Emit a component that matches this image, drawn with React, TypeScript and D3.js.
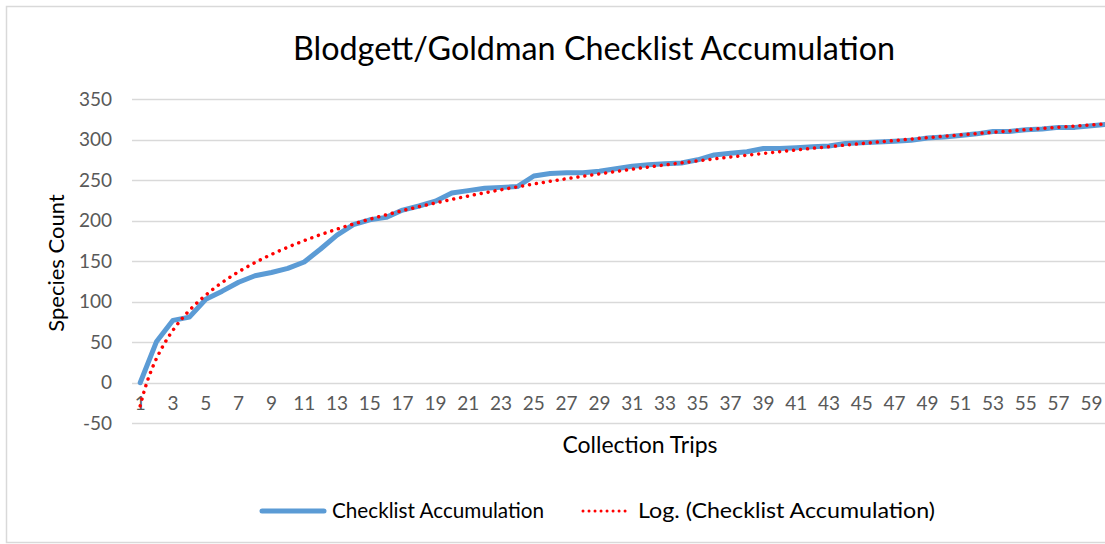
import React, { useEffect, useRef } from "react";
import * as d3 from "d3";

// species count after each collection trip
const trips: number[] = d3.range(1, 61);
const speciesCounts: number[] = [
  0, 51, 77, 81, 103, 113, 124, 132, 136, 141,
  149, 165, 182, 195, 201, 204, 213, 218, 224, 234,
  237, 240, 241, 242, 255, 258, 259, 259, 261, 264,
  267, 269, 270, 271, 275, 281, 283, 285, 289, 289,
  290, 291, 292, 295, 296, 297, 298, 299, 302, 303,
  305, 307, 310, 310, 312, 313, 315, 315, 317, 319,
];
const yTicks: number[] = [-50, 0, 50, 100, 150, 200, 250, 300, 350];
const xTickLabels: number[] = trips.filter((t) => t % 2 === 1);

const title = "Blodgett/Goldman Checklist Accumulation";
const seriesName = "Checklist Accumulation";
const trendName = "Log. (Checklist Accumulation)";

const FONT = "Lato, 'Open Sans', sans-serif";

export default function App() {
  const svgRef = useRef<SVGSVGElement | null>(null);

  useEffect(() => {
    const width = 1105;
    const height = 544;
    const svg = d3.select(svgRef.current);
    svg.selectAll("*").remove();
    svg.attr("width", width).attr("height", height).style("font-family", FONT);

    svg.append("rect").attr("width", width).attr("height", height).attr("fill", "white");
    // chart border (cropped on the right)
    svg
      .append("rect")
      .attr("x", 6.5)
      .attr("y", 6.5)
      .attr("width", width + 20)
      .attr("height", 536)
      .attr("fill", "none")
      .attr("stroke", "#D9D9D9")
      .attr("stroke-width", 1.5);

    const plotLeft = 132;
    const x = d3.scaleBand<number>().domain(trips).range([plotLeft, plotLeft + 60 * 16.4]);
    const cx = (t: number) => (x(t) as number) + x.bandwidth() / 2;
    const y = d3.scaleLinear().domain([-50, 350]).range([423.3, 99]);

    // gridlines
    svg
      .append("g")
      .selectAll("line")
      .data(yTicks)
      .enter()
      .append("line")
      .attr("x1", plotLeft)
      .attr("x2", width)
      .attr("y1", (d) => Math.round(y(d)) + 0.5)
      .attr("y2", (d) => Math.round(y(d)) + 0.5)
      .attr("stroke", "#D9D9D9")
      .attr("stroke-width", 1.3);

    // y tick labels
    svg
      .append("g")
      .selectAll("text")
      .data(yTicks)
      .enter()
      .append("text")
      .attr("x", 112)
      .attr("y", (d) => y(d))
      .attr("dy", "0.35em")
      .attr("text-anchor", "end")
      .attr("fill", "#595959")
      .style("font-size", "19px")
      .text((d) => d);

    // x tick labels
    svg
      .append("g")
      .selectAll("text")
      .data(xTickLabels)
      .enter()
      .append("text")
      .attr("x", (d) => cx(d))
      .attr("y", y(0) + 21)
      .attr("dy", "0.35em")
      .attr("text-anchor", "middle")
      .attr("fill", "#595959")
      .style("font-size", "19px")
      .text((d) => d);

    // log trendline fit: y = a ln(x) + b
    const lx = trips.map((t) => Math.log(t));
    const mx = d3.mean(lx) as number;
    const my = d3.mean(speciesCounts) as number;
    const a =
      d3.sum(lx, (v, i) => (v - mx) * (speciesCounts[i] - my)) /
      d3.sum(lx, (v) => (v - mx) * (v - mx));
    const b = my - a * mx;
    const trendPts = d3.range(1, 60.01, 0.25).map((t) => ({ t, v: a * Math.log(t) + b }));
    const bandStep = x.step();
    const tx = (t: number) => cx(1) + (t - 1) * bandStep;

    const line = d3
      .line<number>()
      .x((d, i) => cx(trips[i]))
      .y((d) => y(d));

    svg
      .append("path")
      .datum(speciesCounts)
      .attr("d", line)
      .attr("fill", "none")
      .attr("stroke", "#5B9BD5")
      .attr("stroke-width", 5)
      .attr("stroke-linejoin", "round")
      .attr("stroke-linecap", "round");

    svg
      .append("path")
      .datum(trendPts)
      .attr(
        "d",
        d3
          .line<{ t: number; v: number }>()
          .x((d) => tx(d.t))
          .y((d) => y(d.v))
      )
      .attr("fill", "none")
      .attr("stroke", "#FF0000")
      .attr("stroke-width", 3.5)
      .attr("stroke-dasharray", "0.01 7")
      .attr("stroke-linecap", "round");

    // title and axis titles
    svg
      .append("text")
      .attr("x", 594)
      .attr("y", 60)
      .attr("text-anchor", "middle")
      .attr("fill", "#000")
      .style("font-size", "32px")
      .attr("textLength", 602)
      .attr("lengthAdjust", "spacingAndGlyphs")
      .text(title);

    svg
      .append("text")
      .attr("transform", `translate(64,263) rotate(-90)`)
      .attr("text-anchor", "middle")
      .attr("fill", "#000")
      .style("font-size", "22px")
      .text("Species Count");

    svg
      .append("text")
      .attr("x", 640)
      .attr("y", 453)
      .attr("text-anchor", "middle")
      .attr("fill", "#000")
      .style("font-size", "23px")
      .text("Collection Trips");

    // legend
    const lg = svg.append("g");
    lg.append("line")
      .attr("x1", 262)
      .attr("x2", 324)
      .attr("y1", 511)
      .attr("y2", 511)
      .attr("stroke", "#5B9BD5")
      .attr("stroke-width", 5)
      .attr("stroke-linecap", "round");
    lg.append("text")
      .attr("x", 332)
      .attr("y", 511)
      .attr("dy", "0.35em")
      .attr("fill", "#000")
      .style("font-size", "21px")
      .attr("textLength", 212)
      .attr("lengthAdjust", "spacingAndGlyphs")
      .text(seriesName);
    lg.append("line")
      .attr("x1", 583)
      .attr("x2", 630)
      .attr("y1", 511)
      .attr("y2", 511)
      .attr("stroke", "#FF0000")
      .attr("stroke-width", 3)
      .attr("stroke-dasharray", "0.01 6")
      .attr("stroke-linecap", "round");
    lg.append("text")
      .attr("x", 638)
      .attr("y", 511)
      .attr("dy", "0.35em")
      .attr("fill", "#000")
      .style("font-size", "21px")
      .attr("textLength", 297)
      .attr("lengthAdjust", "spacingAndGlyphs")
      .text(trendName);
  }, []);

  return <svg ref={svgRef} style={{ position: "absolute", left: 0, top: 0 }} />;
}
